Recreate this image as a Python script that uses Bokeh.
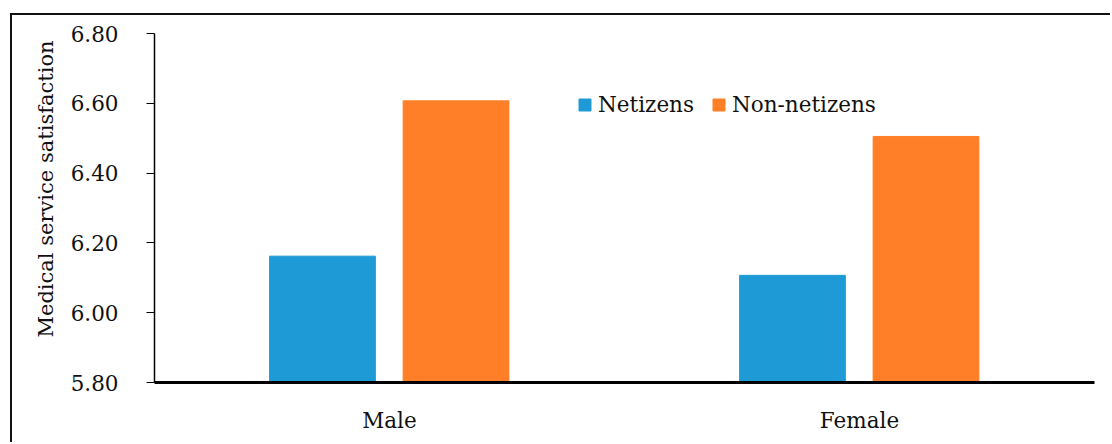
from bokeh.plotting import figure
from bokeh.models import FactorRange, FixedTicker, NumeralTickFormatter, Legend, LegendItem, ColumnDataSource, Title
from bokeh.transform import dodge
from bokeh.embed import file_html
from bokeh.resources import INLINE

categories = ["Male", "Female"]
netizens = [6.162, 6.107]
non_netizens = [6.607, 6.505]
y_ticks = [5.8, 6.0, 6.2, 6.4, 6.6, 6.8]

FONT = "DejaVu Serif"
BLUE = "#1E9BD7"
ORANGE = "#FE7F27"

src = ColumnDataSource(dict(cat=categories, net=netizens, non=non_netizens))

p = figure(width=1100, height=429, x_range=FactorRange(*categories, range_padding=0),
           y_range=(5.8, 6.8), output_backend="svg", toolbar_location=None,
           min_border_left=142, min_border_right=18, min_border_top=18, min_border_bottom=62)
p.margin = (13, 0, 0, 10)
p.styles = {"border-left": "2px solid #111", "border-top": "2px solid #111"}
p.outline_line_color = None
p.grid.grid_line_color = None

r1 = p.vbar(x=dodge("cat", -0.1426, range=p.x_range), top="net", bottom=5.8, width=0.225,
            source=src, color=BLUE)
r2 = p.vbar(x=dodge("cat", 0.1415, range=p.x_range), top="non", bottom=5.8, width=0.225,
            source=src, color=ORANGE)

p.yaxis.ticker = FixedTicker(ticks=y_ticks)
p.yaxis.formatter = NumeralTickFormatter(format="0.00")
p.yaxis.axis_line_color = "black"
p.yaxis.axis_line_width = 1.5
p.yaxis.major_tick_line_color = "black"
p.yaxis.major_tick_out = 8
p.yaxis.major_tick_in = 0
p.yaxis.minor_tick_line_color = None
p.yaxis.major_label_standoff = 28
p.yaxis.major_label_text_font = FONT
p.yaxis.major_label_text_font_size = "21.5px"
p.yaxis.major_label_text_color = "#111"

ytitle = Title(text="Medical service satisfaction", align="left", offset=45,
               text_font=FONT, text_font_size="21px", text_font_style="normal",
               text_color="#111", standoff=19)
p.add_layout(ytitle, "left")

p.xaxis.axis_line_color = "black"
p.xaxis.axis_line_width = 3
p.xaxis.major_tick_line_color = None
p.xaxis.minor_tick_line_color = None
p.xaxis.major_label_standoff = 19
p.xaxis.major_label_text_font = FONT
p.xaxis.major_label_text_font_size = "21.5px"
p.xaxis.major_label_text_color = "#111"

legend = Legend(items=[LegendItem(label="Netizens", renderers=[r1]),
                       LegendItem(label="Non-netizens", renderers=[r2])],
                orientation="horizontal", location=(423, 265),
                border_line_color=None, background_fill_alpha=0,
                padding=0, margin=0, spacing=17, label_standoff=6,
                glyph_width=15, glyph_height=15, label_height=15,
                label_text_font=FONT, label_text_font_size="21.5px", label_text_color="#111")
p.add_layout(legend, "center")

open("out.html", "w").write(file_html(p, INLINE))
